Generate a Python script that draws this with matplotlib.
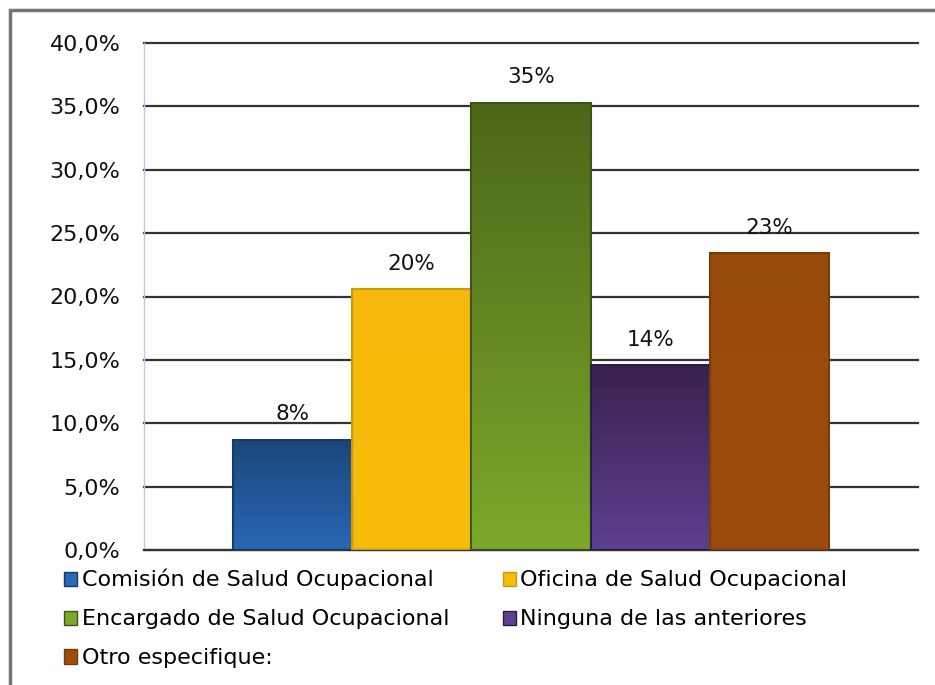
import numpy as np
import matplotlib.pyplot as plt
from matplotlib.colors import LinearSegmentedColormap
from matplotlib.patches import Rectangle

# === Data ===
categories = ["Comisión de Salud Ocupacional", "Oficina de Salud Ocupacional",
              "Encargado de Salud Ocupacional", "Ninguna de las anteriores",
              "Otro especifique:"]
values = [8.7, 20.6, 35.3, 14.6, 23.4]
value_labels = ["8%", "20%", "35%", "14%", "23%"]
yticks = [0, 5, 10, 15, 20, 25, 30, 35, 40]
ytick_labels = ["0,0%", "5,0%", "10,0%", "15,0%", "20,0%", "25,0%", "30,0%", "35,0%", "40,0%"]

# colours: (top, bottom, edge)
colors = [("#1a4679", "#2a68b4", "#153a66"),
          ("#f6b80a", "#f8bd0c", "#c99a0e"),
          ("#4c6619", "#7ca92c", "#3f5514"),
          ("#38224f", "#5f3f90", "#2e1c44"),
          ("#964a0c", "#9c4d0e", "#7a3c08")]

plt.rcParams["font.family"] = "DejaVu Sans"

fig = plt.figure(figsize=(9.35, 6.85), dpi=100)
ax = fig.add_axes([144 / 935, 1 - 550 / 685, (918 - 144) / 935, 507 / 685])

x = np.arange(len(values))
bars = ax.bar(x, values, width=1.0, zorder=3, linewidth=1.5)

# gradient fill inside each bar
for b, (top, bot, edge) in zip(bars, colors):
    b.set_facecolor("none")
    b.set_edgecolor(edge)
    cmap = LinearSegmentedColormap.from_list("g", [bot, top])
    grad = np.linspace(0, 1, 256).reshape(-1, 1)
    x0, w, h = b.get_x(), b.get_width(), b.get_height()
    im = ax.imshow(grad, cmap=cmap, origin="lower", aspect="auto",
                   extent=[x0, x0 + w, 0, h], zorder=2)
    im.set_clip_path(b)

for xi, v, lab in zip(x, values, value_labels):
    ax.annotate(lab, (xi, v), xytext=(0, 11), textcoords="offset points",
                ha="center", va="bottom", fontsize=15.5, color="#111111", zorder=4)

ax.set_xlim(-1.245, 5.245)
ax.set_ylim(0, 40)
ax.set_yticks(yticks)
ax.set_yticklabels(ytick_labels, fontsize=16, color="#111111")
ax.set_xticks([])
ax.tick_params(axis="y", length=0, pad=17)
ax.yaxis.grid(True, color="#333333", linewidth=1.6, zorder=1)
for gl in ax.get_ygridlines():
    gl.set_clip_on(False)
ax.set_axisbelow(True)
for s in ["top", "right"]:
    ax.spines[s].set_visible(False)
ax.spines["left"].set_color("#b8cbe6")
ax.spines["left"].set_linewidth(1.0)
ax.spines["bottom"].set_color("#333333")
ax.spines["bottom"].set_linewidth(1.6)

# legend, filled row by row like the original
handles = [Rectangle((0, 0), 1, 1, facecolor=c[1], edgecolor=c[2], linewidth=1) for c in colors]
order = [0, 2, 4, 1, 3]
fig.legend([handles[i] for i in order], [categories[i] for i in order],
           ncol=2, loc="upper left",
           bbox_to_anchor=(64 / 935, 1 - 569 / 685), frameon=False,
           fontsize=16, handlelength=0.6, handleheight=0.6, handletextpad=0.2,
           columnspacing=2.4, labelspacing=0.85, borderaxespad=0, borderpad=0)

# outer frame
fig.patches.append(Rectangle((10 / 935, -0.05), 1.2, 1 - 9.5 / 685 + 0.05,
                             transform=fig.transFigure, fill=False,
                             edgecolor="#747474", linewidth=2.5))

fig.savefig("out.png", dpi=100)
